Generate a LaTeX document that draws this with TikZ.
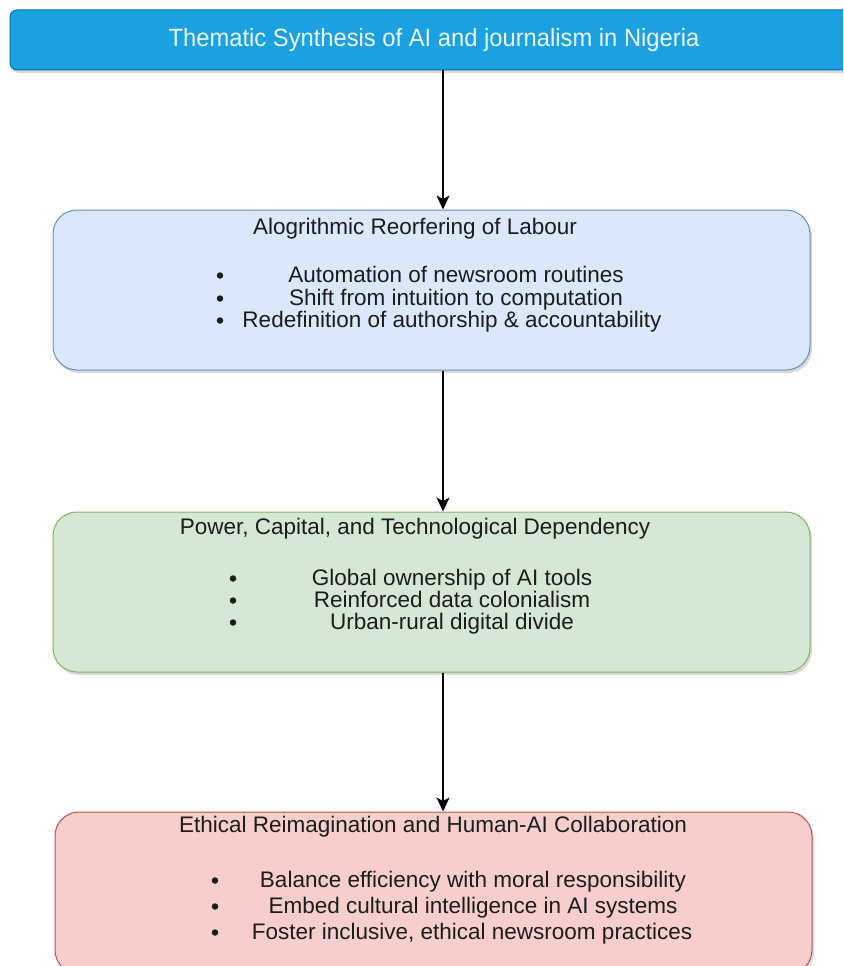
\documentclass[tikz,border=0pt]{standalone}
\usepackage{fontspec}
\setmainfont{Liberation Sans}
\newfontfamily\headfont[FakeStretch=0.95]{Liberation Sans}
\usetikzlibrary{shadows,arrows.meta}

\definecolor{headfill}{HTML}{1BA1E2}
\definecolor{headline}{HTML}{006EAF}
\definecolor{headtext}{HTML}{EAF6FF}
\definecolor{labourfill}{HTML}{DAE8FC}
\definecolor{labourline}{HTML}{6C8EBF}
\definecolor{powerfill}{HTML}{D5E8D4}
\definecolor{powerline}{HTML}{82B366}
\definecolor{ethicsfill}{HTML}{F8CECC}
\definecolor{ethicsline}{HTML}{B85450}
\definecolor{inktext}{HTML}{1C1C1C}

\begin{document}
\begin{tikzpicture}[x=1pt,y=-1pt]
  \tikzstyle{boxshadow}=[drop shadow={shadow xshift=2pt,shadow yshift=-3pt,opacity=0.3}]
  \tikzstyle{panel}=[draw, line width=1pt, rounded corners=24pt, minimum width=757pt, minimum height=160pt, boxshadow]
  \tikzstyle{banner}=[draw=headline, fill=headfill, line width=1pt, rounded corners=7pt, minimum width=848pt, minimum height=60pt, boxshadow]
  \tikzstyle{heading}=[inner sep=0pt, anchor=base, text=inktext, font=\fontsize{22.5}{26}\selectfont]
  \tikzstyle{item}=[inner sep=0pt, anchor=base, text=inktext, font=\fontsize{22.5}{26}\selectfont]
  \tikzstyle{dot}=[circle, fill=inktext, inner sep=0pt, minimum size=6.5pt]
  \tikzstyle{link}=[draw, line width=1.4pt, -{Stealth[length=14pt,width=13pt,inset=3.5pt]}]
  \useasboundingbox (0,0) rectangle (843,966);
  \clip (0,0) rectangle (843,966);
  \coordinate (spine) at (443,0);
  % top banner
  \node[banner] (thematic) at (434,40) {};
  \node[inner sep=0pt, text=headtext, font=\headfont\fontsize{25}{28}\selectfont] (thematictext) at (434,40) {Thematic Synthesis of AI and journalism in Nigeria};
  % labour
  \node[panel, fill=labourfill, draw=labourline] (labour) at (431.5,290) {};
  \node[heading] (labourtitle) at (415,234) {Alogrithmic Reorfering of Labour};
  \node[dot] (labourdot1) at (220,275.5) {};
  \node[dot] (labourdot2) at (220,298.5) {};
  \node[dot] (labourdot3) at (220,320.5) {};
  \node[item] (labouritem1) at (456,282) {Automation of newsroom routines};
  \node[item] (labouritem2) at (456,305) {Shift from intuition to computation};
  \node[item] (labouritem3) at (452,327) {Redefinition of authorship \& accountability};
  % power
  \node[panel, fill=powerfill, draw=powerline] (power) at (431.5,592) {};
  \node[heading] (powertitle) at (415,534) {Power, Capital, and Technological Dependency};
  \node[dot] (powerdot1) at (233,578.5) {};
  \node[dot] (powerdot2) at (233,600.5) {};
  \node[dot] (powerdot3) at (233,622.5) {};
  \node[item] (poweritem1) at (452,585) {Global ownership of AI tools};
  \node[item] (poweritem2) at (452,607) {Reinforced data colonialism};
  \node[item] (poweritem3) at (452,629) {Urban-rural digital divide};
  % ethics
  \node[panel, fill=ethicsfill, draw=ethicsline, minimum height=162pt] (ethics) at (433.5,893) {};
  \node[heading] (ethicstitle) at (433,832) {Ethical Reimagination and Human-AI Collaboration};
  \node[dot] (ethicsdot1) at (215,880.5) {};
  \node[dot] (ethicsdot2) at (215,906.5) {};
  \node[dot] (ethicsdot3) at (215,932.5) {};
  \node[item] (ethicsitem1) at (473,887) {Balance efficiency with moral responsibility};
  \node[item] (ethicsitem2) at (473,913) {Embed cultural intelligence in AI systems};
  \node[item] (ethicsitem3) at (472,939) {Foster inclusive, ethical newsroom practices};
  % arrows
  \path[link] (thematic.south -| spine) -- (labour.north -| spine);
  \path[link] (labour.south -| spine) -- (power.north -| spine);
  \path[link] (power.south -| spine) -- (ethics.north -| spine);
\end{tikzpicture}
\end{document}
